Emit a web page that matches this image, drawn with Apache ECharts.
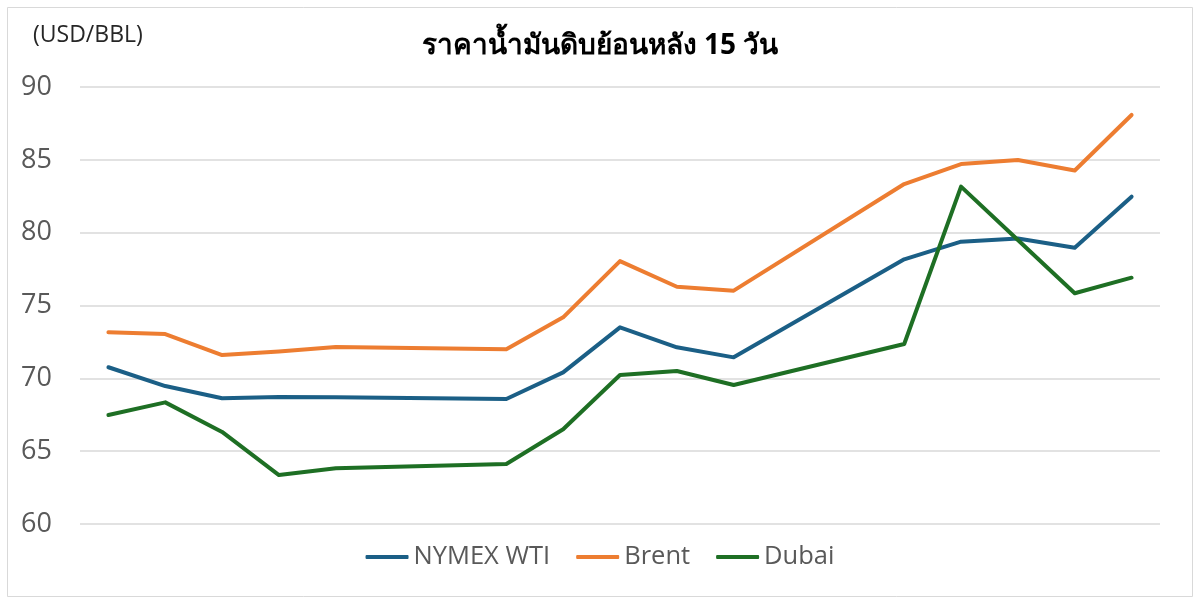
<!DOCTYPE html>
<html>
<head>
<meta charset="utf-8">
<script src="https://cdn.jsdelivr.net/npm/echarts@6/dist/echarts.min.js"></script>
<style>
  html, body { margin: 0; padding: 0; background: #fff; }
  #main { width: 1200px; height: 604px; }
</style>
</head>
<body>
<div id="main"></div>
<script>
// 19 trading-day slots, weekends left empty (null)
var days = ['d1','d2','d3','d4','d5','d6','d7','d8','d9','d10','d11','d12','d13','d14','d15','d16','d17','d18','d19'];
var wti   = [70.76, 69.47, 68.63, 68.72, 68.70, null, null, 68.58, 70.41, 73.50, 72.13, 71.44, null, null, 78.17, 79.38, 79.60, 78.97, 82.47];
var brent = [73.16, 73.04, 71.60, 71.85, 72.15, null, null, 72.00, 74.19, 78.05, 76.29, 76.02, null, null, 83.34, 84.71, 84.99, 84.27, 88.08];
var dubai = [67.48, 68.35, 66.32, 63.36, 63.82, null, null, 64.12, 66.50, 70.23, 70.50, 69.54, null, null, 72.36, 83.16, 79.50, 75.84, 76.91];
var yTicks = [60, 65, 70, 75, 80, 85, 90];

var myChart = echarts.init(document.getElementById('main'));

function lineSeries(name, data, color) {
    return {
        name: name,
        type: 'line',
        data: data,
        connectNulls: true,
        symbol: 'none',
        lineStyle: { width: 4, color: color, cap: 'round', join: 'round' },
        itemStyle: { color: color }
    };
}

var option = {
    animation: false,
    backgroundColor: '#fff',
    title: {
        text: 'ราคาน้ำมันดิบย้อนหลัง 15 วัน',
        left: 'center',
        top: 27,
        textStyle: { fontSize: 28, fontWeight: 'bold', color: '#000', fontFamily: 'Noto Sans, sans-serif' }
    },
    graphic: [
        {
            type: 'rect',
            shape: { x: 7.5, y: 7.5, width: 1185, height: 589 },
            style: { fill: null, stroke: '#d9d9d9', lineWidth: 1 },
            silent: true
        },
        {
            type: 'text',
            left: 33,
            top: 24,
            style: { text: '(USD/BBL)', fontSize: 23, fill: '#262626', fontFamily: 'Open Sans, sans-serif' }
        }
    ],
    legend: {
        bottom: 29,
        left: 'center',
        itemWidth: 43,
        itemHeight: 4,
        itemGap: 26,
        icon: 'roundRect',
        textStyle: { fontSize: 25.5, color: '#595959', fontFamily: 'Open Sans, sans-serif' },
        data: ['NYMEX WTI', 'Brent', 'Dubai']
    },
    grid: {
        left: 80,
        right: 40,
        top: 87,
        bottom: 80,
        containLabel: false
    },
    xAxis: {
        type: 'category',
        data: days,
        boundaryGap: true,
        axisLine: { show: false },
        axisTick: { show: false },
        axisLabel: { show: false }
    },
    yAxis: {
        type: 'value',
        min: yTicks[0],
        max: yTicks[yTicks.length - 1],
        interval: 5,
        axisLine: { show: false },
        axisTick: { show: false },
        axisLabel: { fontSize: 27, color: '#595959', margin: 28, fontFamily: 'Open Sans, sans-serif' },
        splitLine: { lineStyle: { color: '#d9d9d9', width: 1.5 } }
    },
    series: [
        lineSeries('NYMEX WTI', wti, '#1b5f86'),
        lineSeries('Brent', brent, '#ed7d31'),
        lineSeries('Dubai', dubai, '#1e6f24')
    ]
};
myChart.setOption(option);
</script>
</body>
</html>
